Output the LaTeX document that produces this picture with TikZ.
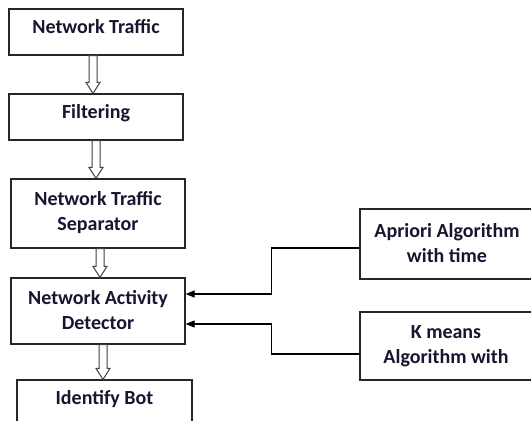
\documentclass[tikz,border=0pt]{standalone}
\usepackage{fontspec}
\setmainfont{Carlito}
\usetikzlibrary{arrows.meta,calc}
\definecolor{txt}{RGB}{22,22,48}
\tikzset{
  box/.style={draw=black!85, line width=1.2pt, fill=white, inner sep=0pt, minimum width=174pt},
  lbl/.style={anchor=north, inner sep=0pt, align=center, text=txt, font=\fontsize{20}{25}\selectfont\bfseries},
  hollow/.style={draw=black!75, line width=1pt, fill=white, line join=miter},
  conn/.style={draw=black, line width=1.1pt, -{Triangle[length=9pt,width=7pt]}}
}
\newcommand\blockarr[3]{%
  \draw[hollow] let \p1=(#1.south), \p2=(#2.north) in
    ({#3pt-4pt},\y1) -- ({#3pt+4pt},\y1) -- ({#3pt+4pt},{\y2+11pt}) -- ({#3pt+7pt},{\y2+11pt})
    -- ({#3pt},\y2) -- ({#3pt-7pt},{\y2+11pt}) -- ({#3pt-4pt},{\y2+11pt}) -- cycle;}
\begin{document}
\begin{tikzpicture}[x=1pt,y=-1pt]
\useasboundingbox (0,0) rectangle (531,421);
\clip (0,0) rectangle (531,421);
\fill[white] (0,0) rectangle (531,421);
\node[box, minimum height=46pt] (b1) at (96,32) {};
\node[box, minimum height=46pt] (b2) at (96,117) {};
\node[box, minimum height=69pt] (b3) at (98,213.5) {};
\node[box, minimum height=66pt] (b4) at (98,311) {};
\node[box, minimum width=175pt, minimum height=60pt] (b5) at (104.5,410) {};
\node[box, minimum height=70pt] (ap) at (447,244) {};
\node[box, minimum height=68pt] (km) at (447,346) {};
\node[lbl] (t1) at (96,19.5) {Network Traffic};
\node[lbl] (t2) at (96,104.5) {Filtering};
\node[lbl] (t3) at (98,191.5) {Network Traffic\\Separator};
\node[lbl] (t4) at (98,290.5) {Network Activity\\Detector};
\node[lbl] (t5) at (104.5,390.5) {Identify Bot};
\node[lbl] (t6) at (447,223.5) {Apriori Algorithm\\with time};
\node[lbl] (t7) at (446,325.5) {K means\\Algorithm with};
\blockarr{b1}{b2}{93}
\blockarr{b2}{b3}{96}
\blockarr{b3}{b4}{100}
\blockarr{b4}{b5}{103}
\draw[conn] ([yshift=-4pt]ap.west) -- ++(-88,0) |- ([yshift=17pt]b4.east);
\draw[conn] ([yshift=-8pt]km.west) -- ++(-88,0) |- ([yshift=-13pt]b4.east);
\end{tikzpicture}
\end{document}
